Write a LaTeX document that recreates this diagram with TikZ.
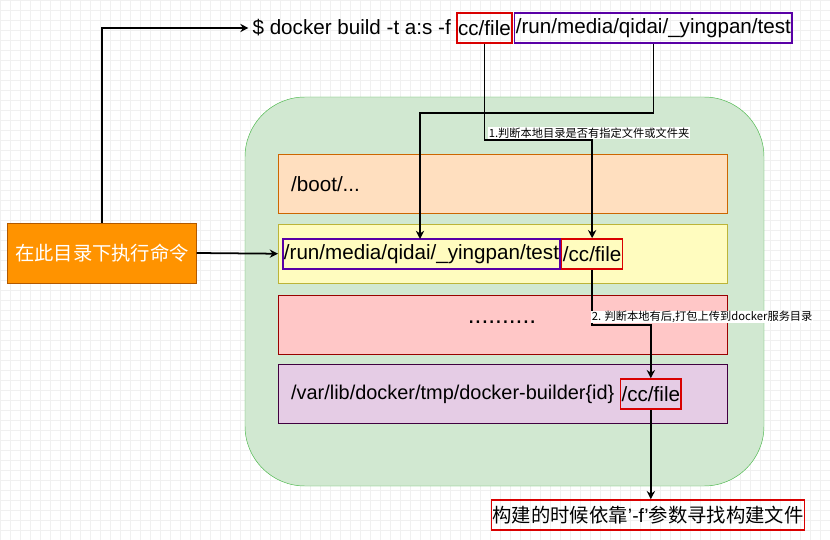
\documentclass[tikz,border=0pt]{standalone}
\usepackage{fontspec}
\setmainfont{Liberation Sans}
\newfontfamily\cjk{Noto Sans CJK SC}
\usetikzlibrary{arrows.meta,positioning}
\begin{document}
\begin{tikzpicture}[x=0.03cm,y=-0.03cm,>={Stealth[length=7pt,width=7pt]}]

\tikzstyle{layer} = [rectangle, minimum width=13.47cm, minimum height=1.77cm, anchor=north west]
\tikzstyle{path} = [rectangle, draw, line width=1.3pt, minimum height=0.9cm, inner xsep=1pt, font=\fontsize{17.6}{18}\selectfont]
\tikzstyle{big} = [font=\fontsize{17.6}{18}\selectfont]
\tikzstyle{note} = [fill=white, inner sep=0.5pt, font=\cjk\fontsize{9.6}{10}\selectfont]
\tikzstyle{flow} = [->, line width=1.5pt]

% background
\useasboundingbox (0,0) rectangle (830,540);
\fill[white] (0,0) rectangle (830,540);
\draw[black!6, step=0.3cm] (0,0) grid (830,540);

% host
\draw[draw=green!60!black!70, fill=green!50!black!18, rounded corners=1.8cm] (245,97) rectangle (764,486);
\node (boot) [layer, fill=orange!25, draw=orange!80!black] at (278,154) {};
\node (work) [layer, fill=yellow!25, draw=yellow!70!black] at (278,224) {};
\node (dots) [layer, fill=red!22, draw=red!60!black] at (278,295) {};
\node (tmp) [layer, fill=violet!20, draw=violet!50!black] at (278,364) {};
\node [big, anchor=west] at (287,184) {/boot/...};
\node [font=\fontsize{21}{21}\selectfont] at (502,322) {..........};

% command
\node (cmd) [big, anchor=east] at (455,28) {\$ docker build -t a:s -f};
\node (ccfile) [path, draw=red!85!black, right=1pt of cmd] {cc/file};
\node (ctx) [path, draw=violet!70!blue, right=1pt of ccfile] {/run/media/qidai/\_yingpan/test};

% working dir
\node (wctx) [path, draw=violet!70!blue, anchor=west] at (282,254) {/run/media/qidai/\_yingpan/test};
\node (wfile) [path, draw=red!85!black, right=0pt of wctx] {/cc/file};

% docker tmp
\node (tpath) [font=\fontsize{17}{18}\selectfont, anchor=west] at (287,394) {/var/lib/docker/tmp/docker-builder\{id\}};
\node (tfile) [path, draw=red!85!black, right=1pt of tpath] {/cc/file};

% shell and result
\node (shell) [rectangle, draw=orange!70!black, fill=orange!85!yellow, text=white, minimum width=5.67cm, minimum height=1.8cm, font=\cjk\fontsize{16.5}{17}\selectfont] at (102,253) {在此目录下执行命令};
\node (result) [path, draw=red!85!black, font=\fontsize{16.5}{17}\selectfont] at (648,515) {{\cjk 构建的时候依靠}'-f'{\cjk 参数寻找构建文件}};

\draw[flow] (shell.north) |- (cmd.west);
\draw[flow] (shell.east) -- (work.west);
\draw[flow] (ccfile.south) |- (wfile.north |- 0,140) -- (wfile.north);
\draw[flow] (ctx.south) |- (420,113) -- (420,239);
\draw[flow] (wfile.south) |- (tfile.north |- 0,325) -- (tfile.north);
\draw[flow] (tfile.south) -- (result.north -| tfile.south);

\node [note, anchor=west] at (488,133) {1.判断本地目录是否有指定文件或文件夹};
\node [note, anchor=west] at (591,317) {2. 判断本地有后,打包上传到docker服务目录};

\end{tikzpicture}
\end{document}
